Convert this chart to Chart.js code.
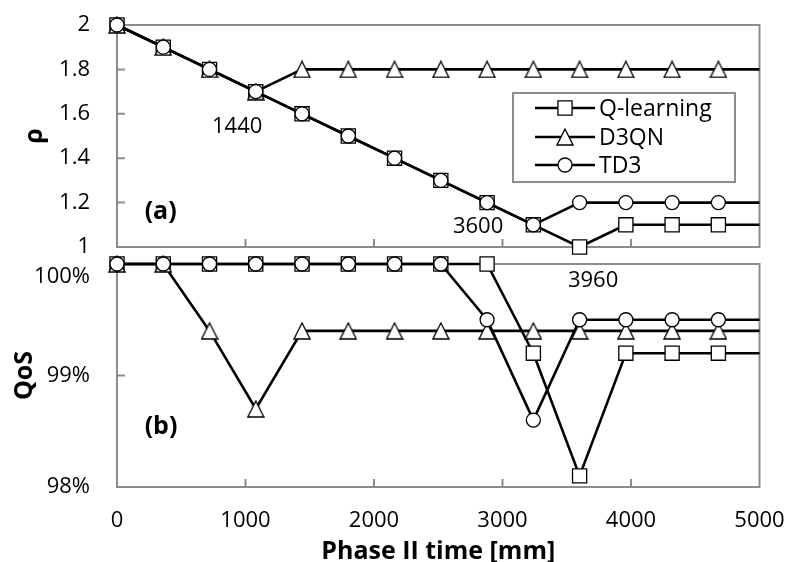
<!DOCTYPE html>
<html>
<head>
<meta charset="utf-8">
<script src="https://cdn.jsdelivr.net/npm/chart.js@4.4.1/dist/chart.umd.min.js"></script>
<style>
  html, body { margin: 0; padding: 0; background: #fff; overflow: hidden; }
  #wrap { position: relative; width: 787px; height: 562px; }
  #rhoChart { position: absolute; left: 0; top: 0; }
  #qosChart { position: absolute; left: 0; top: 250px; }
</style>
</head>
<body>
<div id="wrap">
  <canvas id="rhoChart" width="787" height="262"></canvas>
  <canvas id="qosChart" width="787" height="312"></canvas>
</div>
<script>
// Phase II time samples [mm]; the last sample only extends the lines to the axis end
const times = [0, 360, 720, 1080, 1440, 1800, 2160, 2520, 2880, 3240, 3600, 3960, 4320, 4680, 5000];
const seriesNames = ['Q-learning', 'D3QN', 'TD3'];

// (a) rho per method
const rhoQ    = [2, 1.9, 1.8, 1.7, 1.6, 1.5, 1.4, 1.3, 1.2, 1.1, 1.0, 1.1, 1.1, 1.1, 1.1];
const rhoD3QN = [2, 1.9, 1.8, 1.7, 1.8, 1.8, 1.8, 1.8, 1.8, 1.8, 1.8, 1.8, 1.8, 1.8, 1.8];
const rhoTD3  = [2, 1.9, 1.8, 1.7, 1.6, 1.5, 1.4, 1.3, 1.2, 1.1, 1.2, 1.2, 1.2, 1.2, 1.2];

// (b) QoS [%] per method
const qosQ    = [100, 100, 100, 100, 100, 100, 100, 100, 100, 99.2, 98.1, 99.2, 99.2, 99.2, 99.2];
const qosD3QN = [100, 100, 99.4, 98.7, 99.4, 99.4, 99.4, 99.4, 99.4, 99.4, 99.4, 99.4, 99.4, 99.4, 99.4];
const qosTD3  = [100, 100, 100, 100, 100, 100, 100, 100, 99.5, 98.6, 99.5, 99.5, 99.5, 99.5, 99.5];

// text notes placed in data coordinates
const rhoNotes = [{ text: '1440', x: 935, y: 1.54 }, { text: '3600', x: 2810, y: 1.09 }];
const qosNotes = [{ text: '3960', x: 3705, y: 99.85 }];

const FONT = "'Open Sans', 'DejaVu Sans', sans-serif";
const AXIS = '#8c8c8c';

// white-filled triangle marker with a square bounding box
function makeTriangle(size) {
  const c = document.createElement('canvas');
  c.width = size + 2; c.height = size + 2;
  const g = c.getContext('2d');
  g.fillStyle = '#fff'; g.strokeStyle = '#000'; g.lineWidth = 1.3;
  g.beginPath();
  g.moveTo(c.width / 2, 1);
  g.lineTo(c.width - 1, c.height - 1);
  g.lineTo(1, c.height - 1);
  g.closePath(); g.fill(); g.stroke();
  return c;
}
const triangleImg = makeTriangle(16);

const markers = [
  { style: 'rect', radius: 10 },
  { style: triangleImg, radius: 8 },
  { style: 'circle', radius: 7 }
];

function pts(values) { return values.map((v, i) => ({ x: times[i], y: v })); }
function radii(r) { return times.map((t, i) => i === times.length - 1 ? 0 : r); }

function makeDatasets(series) {
  return series.map((vals, k) => ({
    label: seriesNames[k],
    data: pts(vals),
    borderColor: '#000',
    borderWidth: 2.6,
    backgroundColor: '#fff',
    pointBackgroundColor: '#fff',
    pointBorderColor: '#000',
    pointBorderWidth: 1.3,
    pointStyle: markers[k].style,
    pointRadius: radii(markers[k].radius),
    pointHoverRadius: radii(markers[k].radius),
    tension: 0,
    clip: false,
    order: 3 - k
  }));
}

function drawMarker(ctx, k, x, y) {
  ctx.save();
  ctx.fillStyle = '#fff'; ctx.strokeStyle = '#000'; ctx.lineWidth = 1.3;
  if (k === 0) {
    const h = Math.SQRT1_2 * markers[0].radius;
    ctx.beginPath(); ctx.rect(x - h, y - h, 2 * h, 2 * h); ctx.fill(); ctx.stroke();
  } else if (k === 1) {
    ctx.drawImage(triangleImg, x - triangleImg.width / 2, y - triangleImg.height / 2);
  } else {
    ctx.beginPath(); ctx.arc(x, y, markers[2].radius, 0, Math.PI * 2); ctx.fill(); ctx.stroke();
  }
  ctx.restore();
}

// panel box plus short inward tick marks
const framePlugin = {
  id: 'frame',
  beforeDatasetsDraw(chart) {
    const { ctx, chartArea: a, scales: { x, y } } = chart;
    ctx.save();
    ctx.strokeStyle = AXIS;
    ctx.lineWidth = 2;
    ctx.strokeRect(a.left, a.top, a.right - a.left, a.bottom - a.top);
    ctx.beginPath();
    x.ticks.forEach(t => {
      if (t.value > x.min && t.value < x.max) {
        const px = x.getPixelForValue(t.value);
        ctx.moveTo(px, a.bottom); ctx.lineTo(px, a.bottom - 8);
      }
    });
    y.ticks.forEach(t => {
      if (t.value > y.min && t.value < y.max) {
        const py = y.getPixelForValue(t.value);
        ctx.moveTo(a.left, py); ctx.lineTo(a.left + 8, py);
      }
    });
    ctx.stroke();
    ctx.restore();
  }
};

// panel tag and notes
function notesPlugin(tag, notes) {
  return {
    id: 'notes',
    afterDatasetsDraw(chart) {
      const { ctx, chartArea: a, scales: { x, y } } = chart;
      ctx.save();
      ctx.fillStyle = '#000';
      ctx.textBaseline = 'middle';
      ctx.font = 'bold 25px ' + FONT;
      ctx.textAlign = 'left';
      ctx.fillText(tag.text, x.getPixelForValue(tag.x), y.getPixelForValue(tag.y));
      ctx.font = '22px ' + FONT;
      ctx.textAlign = 'center';
      notes.forEach(n => ctx.fillText(n.text, x.getPixelForValue(n.x), y.getPixelForValue(n.y)));
      ctx.restore();
    }
  };
}

// framed legend with line-through-marker samples
const legendPlugin = {
  id: 'boxLegend',
  afterDraw(chart) {
    const { ctx, chartArea: a } = chart;
    const left = a.right - 246.5, top = a.top + 68, w = 222, h = 89;
    ctx.save();
    ctx.strokeStyle = AXIS; ctx.lineWidth = 2;
    ctx.fillStyle = '#fff';
    ctx.fillRect(left, top, w, h);
    ctx.strokeRect(left, top, w, h);
    const rows = [top + 15, top + 44, top + 72];
    seriesNames.forEach((name, k) => {
      const yy = rows[k];
      ctx.strokeStyle = '#000'; ctx.lineWidth = 2.6;
      ctx.beginPath(); ctx.moveTo(left + 22, yy); ctx.lineTo(left + 82, yy); ctx.stroke();
      drawMarker(ctx, k, left + 52, yy);
      ctx.fillStyle = '#000';
      ctx.font = '23px ' + FONT;
      ctx.textAlign = 'left'; ctx.textBaseline = 'middle';
      ctx.fillText(name, left + 86, yy + 1);
    });
    ctx.restore();
  }
};

const tickFont = { family: FONT, size: 22 };
const titleFont = { family: FONT, size: 25, weight: 'bold', lineHeight: 1.2 };

// fixed axis box sizes; label overflow padding is dropped so the plot area stays put
function fixBox(width, height) {
  return s => {
    if (width !== null) s.width = width;
    if (height !== null) s.height = height;
    s.paddingTop = s.paddingBottom = s.paddingLeft = s.paddingRight = 0;
  };
}

function xScale(showLabels, height) {
  return {
    type: 'linear', min: 0, max: 5000,
    ticks: { display: showLabels, stepSize: 1000, padding: 21, color: '#000', font: tickFont, maxRotation: 0,
      callback: v => String(v) },
    grid: { display: false, drawTicks: false },
    border: { display: false },
    title: showLabels ? { display: true, text: 'Phase II time [mm]', color: '#000',
      font: { family: FONT, size: 25, weight: 'bold', lineHeight: 0.84 }, padding: { top: 0, bottom: 0 } } : { display: false },
    afterFit: fixBox(null, height)
  };
}

const common = {
  responsive: false,
  animation: false,
  events: [],
  plugins: { legend: { display: false }, tooltip: { enabled: false } }
};

new Chart(document.getElementById('rhoChart'), {
  type: 'line',
  data: { datasets: makeDatasets([rhoQ, rhoD3QN, rhoTD3]) },
  options: Object.assign({}, common, {
    layout: { autoPadding: false, padding: { top: 25, right: 27.5, left: 0, bottom: 0 } },
    scales: {
      x: xScale(false, 15),
      y: {
        min: 1, max: 2,
        ticks: { stepSize: 0.2, padding: 27, color: '#000', font: tickFont,
          callback: v => String(+v.toFixed(1)) },
        grid: { display: false, drawTicks: false },
        border: { display: false },
        title: { display: true, text: 'ρ', color: '#000', font: titleFont, padding: { top: 20 } },
        afterFit: fixBox(117, null)
      }
    }
  }),
  plugins: [framePlugin, notesPlugin({ text: '(a)', x: 215, y: 1.16 }, rhoNotes), legendPlugin]
});

new Chart(document.getElementById('qosChart'), {
  type: 'line',
  data: { datasets: makeDatasets([qosQ, qosD3QN, qosTD3]) },
  options: Object.assign({}, common, {
    layout: { autoPadding: false, padding: { top: 14, right: 27.5, left: 0, bottom: 0 } },
    scales: {
      x: xScale(true, 75),
      y: {
        min: 98, max: 100,
        ticks: { stepSize: 1, padding: 27, color: '#000', font: tickFont,
          // the top label sits half a line lower so it stays inside the panel
          callback: v => v === 100 ? ['', '100%'] : v + '%' },
        grid: { display: false, drawTicks: false },
        border: { display: false },
        title: { display: true, text: 'QoS', color: '#000', font: titleFont, padding: { top: 10 } },
        afterFit: fixBox(117, null)
      }
    }
  }),
  plugins: [framePlugin, notesPlugin({ text: '(b)', x: 215, y: 98.54 }, qosNotes)]
});
</script>
</body>
</html>
